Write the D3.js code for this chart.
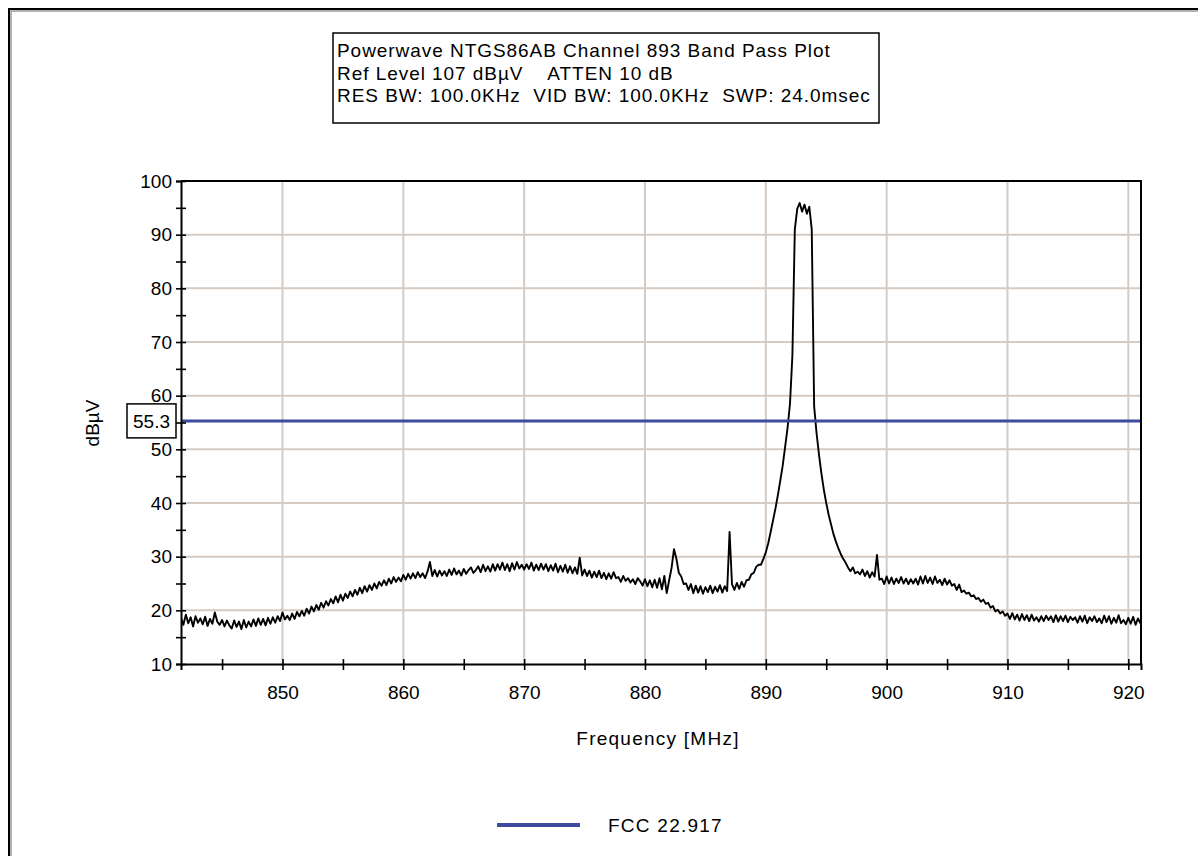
<!DOCTYPE html>
<html>
<head>
<meta charset="utf-8">
<script src="https://cdn.jsdelivr.net/npm/d3@7"></script>
<style>
  html, body { margin: 0; padding: 0; background: #fff; }
  svg { display: block; font-family: "Liberation Sans", Arial, sans-serif; }
</style>
</head>
<body>
<svg id="chart" width="1198" height="856"></svg>
<script>
// Sweep settings of the analyzer trace (MHz)
const sweepStart = 841.6;
const sweepStep = 0.2;

// Measured level per sweep point (dBµV), 10 points per row = 2 MHz
const levels = [
  18.6, 17.3, 19.2, 17.6, 18.7, 17.0, 18.9, 17.7, 18.5, 17.4,
  18.8, 17.1, 18.4, 17.5, 19.6, 17.9, 17.3, 18.2, 17.0, 18.1,
  17.2, 16.6, 18.1, 16.9, 17.9, 16.5, 18.2, 16.8, 17.9, 17.0,
  18.3, 17.1, 18.5, 17.3, 18.4, 17.2, 18.6, 17.5, 18.7, 17.7,
  18.9, 18.0, 19.6, 18.3, 19.0, 18.2, 19.4, 18.4, 19.7, 18.9,
  19.9, 19.0, 20.3, 19.4, 20.7, 19.8, 21.0, 20.1, 21.4, 20.5,
  21.7, 20.9, 22.1, 21.3, 22.6, 21.5, 22.9, 21.8, 23.1, 22.3,
  23.5, 22.6, 23.8, 22.9, 24.2, 23.2, 24.5, 23.5, 24.7, 23.8,
  25.0, 24.1, 25.3, 24.6, 25.6, 24.7, 25.9, 25.0, 26.2, 25.3,
  26.1, 25.4, 26.6, 25.7, 26.8, 25.9, 26.9, 26.0, 27.1, 26.2,
  26.9, 26.0, 27.2, 29.0, 26.4, 27.5, 26.3, 27.4, 26.5, 27.3,
  26.4, 27.6, 26.6, 27.8, 26.7, 27.4, 26.5, 27.7, 26.8, 27.5,
  28.0, 27.0, 27.5, 28.2, 27.1, 28.5, 27.3, 28.2, 27.2, 28.6,
  27.4, 28.6, 27.6, 28.9, 27.5, 28.6, 27.3, 28.8, 27.6, 29.0,
  27.8, 28.5, 27.6, 28.6, 27.7, 28.9, 27.4, 28.5, 27.5, 28.7,
  27.6, 28.6, 27.3, 28.4, 27.4, 28.7, 27.1, 28.3, 27.2, 28.5,
  27.0, 28.2, 26.9, 28.0, 26.8, 29.8, 26.5, 27.6, 26.4, 27.4,
  26.1, 27.2, 26.2, 27.4, 26.0, 27.0, 25.8, 26.9, 25.9, 27.1,
  26.0, 26.2, 25.3, 26.4, 25.5, 26.0, 25.2, 25.8, 24.9, 26.0,
  25.4, 24.6, 25.8, 24.5, 25.6, 24.3, 25.7, 24.2, 26.0, 23.9,
  26.4, 23.2, 25.6, 27.9, 31.4, 29.6, 27.0, 26.3, 24.9, 25.0,
  23.8, 24.9, 23.2, 24.6, 23.3, 24.5, 23.1, 24.3, 23.4, 24.6,
  23.2, 24.4, 23.5, 24.7, 23.3, 24.5, 23.6, 34.6, 24.9, 23.8,
  25.1, 24.0, 25.3, 24.4, 25.6, 25.7, 26.7, 27.0, 28.1, 28.5,
  28.5, 29.6, 30.8, 32.5, 34.6, 36.8, 39.0, 41.5, 44.2, 47.0,
  50.5, 54.0, 58.5, 67.5, 91.0, 94.8, 95.9, 94.3, 95.6, 93.9,
  95.2, 91.0, 58.0, 53.0, 49.0, 45.5, 42.5, 40.0, 37.8, 36.0,
  34.2, 32.8, 31.6, 30.5, 29.6, 28.9, 28.0, 27.3, 28.0, 26.9,
  27.2, 26.7, 27.6, 26.4, 27.3, 26.1, 27.1, 26.3, 30.3, 25.7,
  25.9, 24.9, 26.3, 25.0, 26.1, 24.9, 25.9, 25.1, 26.2, 25.0,
  25.9, 24.9, 25.8, 25.0, 25.9, 24.8, 26.3, 25.0, 26.4, 25.1,
  26.1, 24.9, 26.3, 25.1, 25.7, 24.7, 25.9, 24.8, 25.6, 24.6,
  24.9, 23.8, 24.8, 23.4, 23.7, 23.1, 23.3, 22.6, 22.8, 22.1,
  22.3, 21.6, 22.0, 21.2, 21.4, 20.5, 20.8, 19.8, 20.1, 19.4,
  19.8, 19.0, 19.4, 18.4, 19.5, 18.3, 19.2, 18.1, 19.3, 18.2,
  19.1, 18.0, 19.2, 18.1, 18.7, 17.9, 18.9, 18.0, 19.0, 18.2,
  18.9, 17.8, 19.1, 17.9, 18.9, 18.0, 19.0, 17.8, 18.8, 18.2,
  18.7, 17.7, 18.9, 17.9, 19.0, 17.6, 18.7, 18.0, 18.9, 17.8,
  18.5, 17.6, 19.0, 17.8, 18.9, 17.5, 18.6, 17.7, 19.1, 17.6,
  18.2, 17.4, 18.6, 17.5, 18.8, 17.3, 18.5, 17.6
];

// Limit line
const limitLevel = 55.3;
const limitName = "FCC 22.917";

// Axis ticks
const xMajorTicks = [850, 860, 870, 880, 890, 900, 910, 920];
const xMinorTicks = [845, 855, 865, 875, 885, 895, 905, 915];
const yMajorTicks = [10, 20, 30, 40, 50, 60, 70, 80, 90, 100];
const yMinorTicks = [15, 25, 35, 45, 55, 65, 75, 85, 95];

const titleLines = [
  "Powerwave NTGS86AB Channel 893 Band Pass Plot",
  "Ref Level 107 dB\u00B5V    ATTEN 10 dB",
  "RES BW: 100.0KHz  VID BW: 100.0KHz  SWP: 24.0msec"
];

const FONT = 19;
const SPACING = "1.25px";
const svg = d3.select("#chart");

// Outer frame
svg.append("rect").attr("x", 9).attr("y", 9).attr("width", 1300).attr("height", 1000)
  .attr("fill", "none").attr("stroke", "#000").attr("stroke-width", 2);
svg.append("rect").attr("x", 11).attr("y", 11).attr("width", 1300).attr("height", 1000)
  .attr("fill", "none").attr("stroke", "#9a9a9a").attr("stroke-width", 1.5);

const plot = { left: 181, right: 1141, top: 181, bottom: 664 };

const x = d3.scaleLinear().domain([sweepStart, 921.05]).range([plot.left, plot.right]);
const y = d3.scaleLinear().domain([10, 100]).range([plot.bottom, plot.top]);

// Grid
const grid = svg.append("g").attr("stroke", "#d5cbc3").attr("stroke-width", 2);
grid.selectAll("line.gx").data(xMajorTicks).join("line")
  .attr("x1", d => x(d)).attr("x2", d => x(d))
  .attr("y1", plot.top).attr("y2", plot.bottom);
grid.selectAll("line.gy").data(yMajorTicks.filter(d => d > 10 && d < 100)).join("line")
  .attr("y1", d => y(d)).attr("y2", d => y(d))
  .attr("x1", plot.left).attr("x2", plot.right);

// Trace
const pts = levels.map((v, i) => [sweepStart + i * sweepStep, v]);
svg.append("defs").append("clipPath").attr("id", "clip")
  .append("rect").attr("x", plot.left).attr("y", plot.top)
  .attr("width", plot.right - plot.left).attr("height", plot.bottom - plot.top);

svg.append("path")
  .datum(pts)
  .attr("clip-path", "url(#clip)")
  .attr("fill", "none")
  .attr("stroke", "#000")
  .attr("stroke-width", 1.9)
  .attr("stroke-linejoin", "round")
  .attr("d", d3.line().x(d => x(d[0])).y(d => y(d[1])));

// Limit line
const BLUE = "#3d4a9e";
svg.append("line")
  .attr("x1", plot.left).attr("x2", plot.right)
  .attr("y1", y(limitLevel)).attr("y2", y(limitLevel))
  .attr("stroke", BLUE).attr("stroke-width", 3);

// Plot frame (top and right)
svg.append("path")
  .attr("d", `M${plot.left},${plot.top}H${plot.right}V${plot.bottom}`)
  .attr("fill", "none").attr("stroke", "#000").attr("stroke-width", 2);

// Axes: labels + ticks crossing the axis line
function styleAxis(g) {
  g.select(".domain").attr("stroke", "#000").attr("stroke-width", 2);
  g.selectAll(".tick line").attr("stroke", "#000").attr("stroke-width", 1.6);
  g.selectAll("text").attr("font-size", FONT).attr("fill", "#000")
    .attr("font-family", "Liberation Sans, Arial, sans-serif");
}

const yAxisG = svg.append("g").attr("transform", `translate(${plot.left},0)`)
  .call(d3.axisLeft(y).tickValues(yMajorTicks).tickSize(5).tickPadding(4).tickFormat(d3.format("d")));
styleAxis(yAxisG);
svg.append("g").attr("transform", `translate(${plot.left},0)`)
  .call(d3.axisRight(y).tickValues(yMajorTicks.concat(yMinorTicks)).tickSize(5).tickFormat(""))
  .call(g => { styleAxis(g); g.select(".domain").remove(); });
svg.append("g").attr("transform", `translate(${plot.left},0)`)
  .call(d3.axisLeft(y).tickValues(yMinorTicks).tickSize(5).tickFormat(""))
  .call(g => { styleAxis(g); g.select(".domain").remove(); });

const xAxisG = svg.append("g").attr("transform", `translate(0,${plot.bottom})`)
  .call(d3.axisBottom(x).tickValues(xMajorTicks).tickSize(6).tickPadding(16).tickFormat(d3.format("d")));
styleAxis(xAxisG);
svg.append("g").attr("transform", `translate(0,${plot.bottom})`)
  .call(d3.axisTop(x).tickValues(xMajorTicks.concat(xMinorTicks)).tickSize(5).tickFormat(""))
  .call(g => { styleAxis(g); g.select(".domain").remove(); });
svg.append("g").attr("transform", `translate(0,${plot.bottom})`)
  .call(d3.axisBottom(x).tickValues(xMinorTicks).tickSize(6).tickFormat(""))
  .call(g => { styleAxis(g); g.select(".domain").remove(); });

// Axis titles
svg.append("text")
  .attr("x", 658).attr("y", 745)
  .attr("text-anchor", "middle").attr("font-size", FONT)
  .attr("letter-spacing", SPACING)
  .text("Frequency [MHz]");
svg.append("text")
  .attr("transform", `translate(99,423) rotate(-90)`)
  .attr("text-anchor", "middle").attr("font-size", FONT)
  .text("dB\u00B5V");

// Limit value tag
const tag = svg.append("g");
tag.append("rect").attr("x", 127).attr("y", y(limitLevel) - 17).attr("width", 49).attr("height", 34)
  .attr("fill", "#fff").attr("stroke", "#000").attr("stroke-width", 1.5);
tag.append("text").attr("x", 151.5).attr("y", y(limitLevel) + 7)
  .attr("text-anchor", "middle").attr("font-size", FONT)
  .text(d3.format(".1f")(limitLevel));

// Title box
const tb = svg.append("g");
tb.append("rect").attr("x", 333).attr("y", 33).attr("width", 546).attr("height", 90)
  .attr("fill", "#fff").attr("stroke", "#000").attr("stroke-width", 1.5);
tb.selectAll("text").data(titleLines).join("text")
  .attr("x", 337).attr("y", (d, i) => 57 + i * 22.5)
  .attr("font-size", FONT)
  .attr("letter-spacing", "0.95px")
  .attr("xml:space", "preserve")
  .style("white-space", "pre")
  .text(d => d);

// Legend
svg.append("line").attr("x1", 497).attr("x2", 580).attr("y1", 825).attr("y2", 825)
  .attr("stroke", BLUE).attr("stroke-width", 4);
svg.append("text").attr("x", 608).attr("y", 832).attr("font-size", FONT)
  .attr("letter-spacing", SPACING).text(limitName);
</script>
</body>
</html>
